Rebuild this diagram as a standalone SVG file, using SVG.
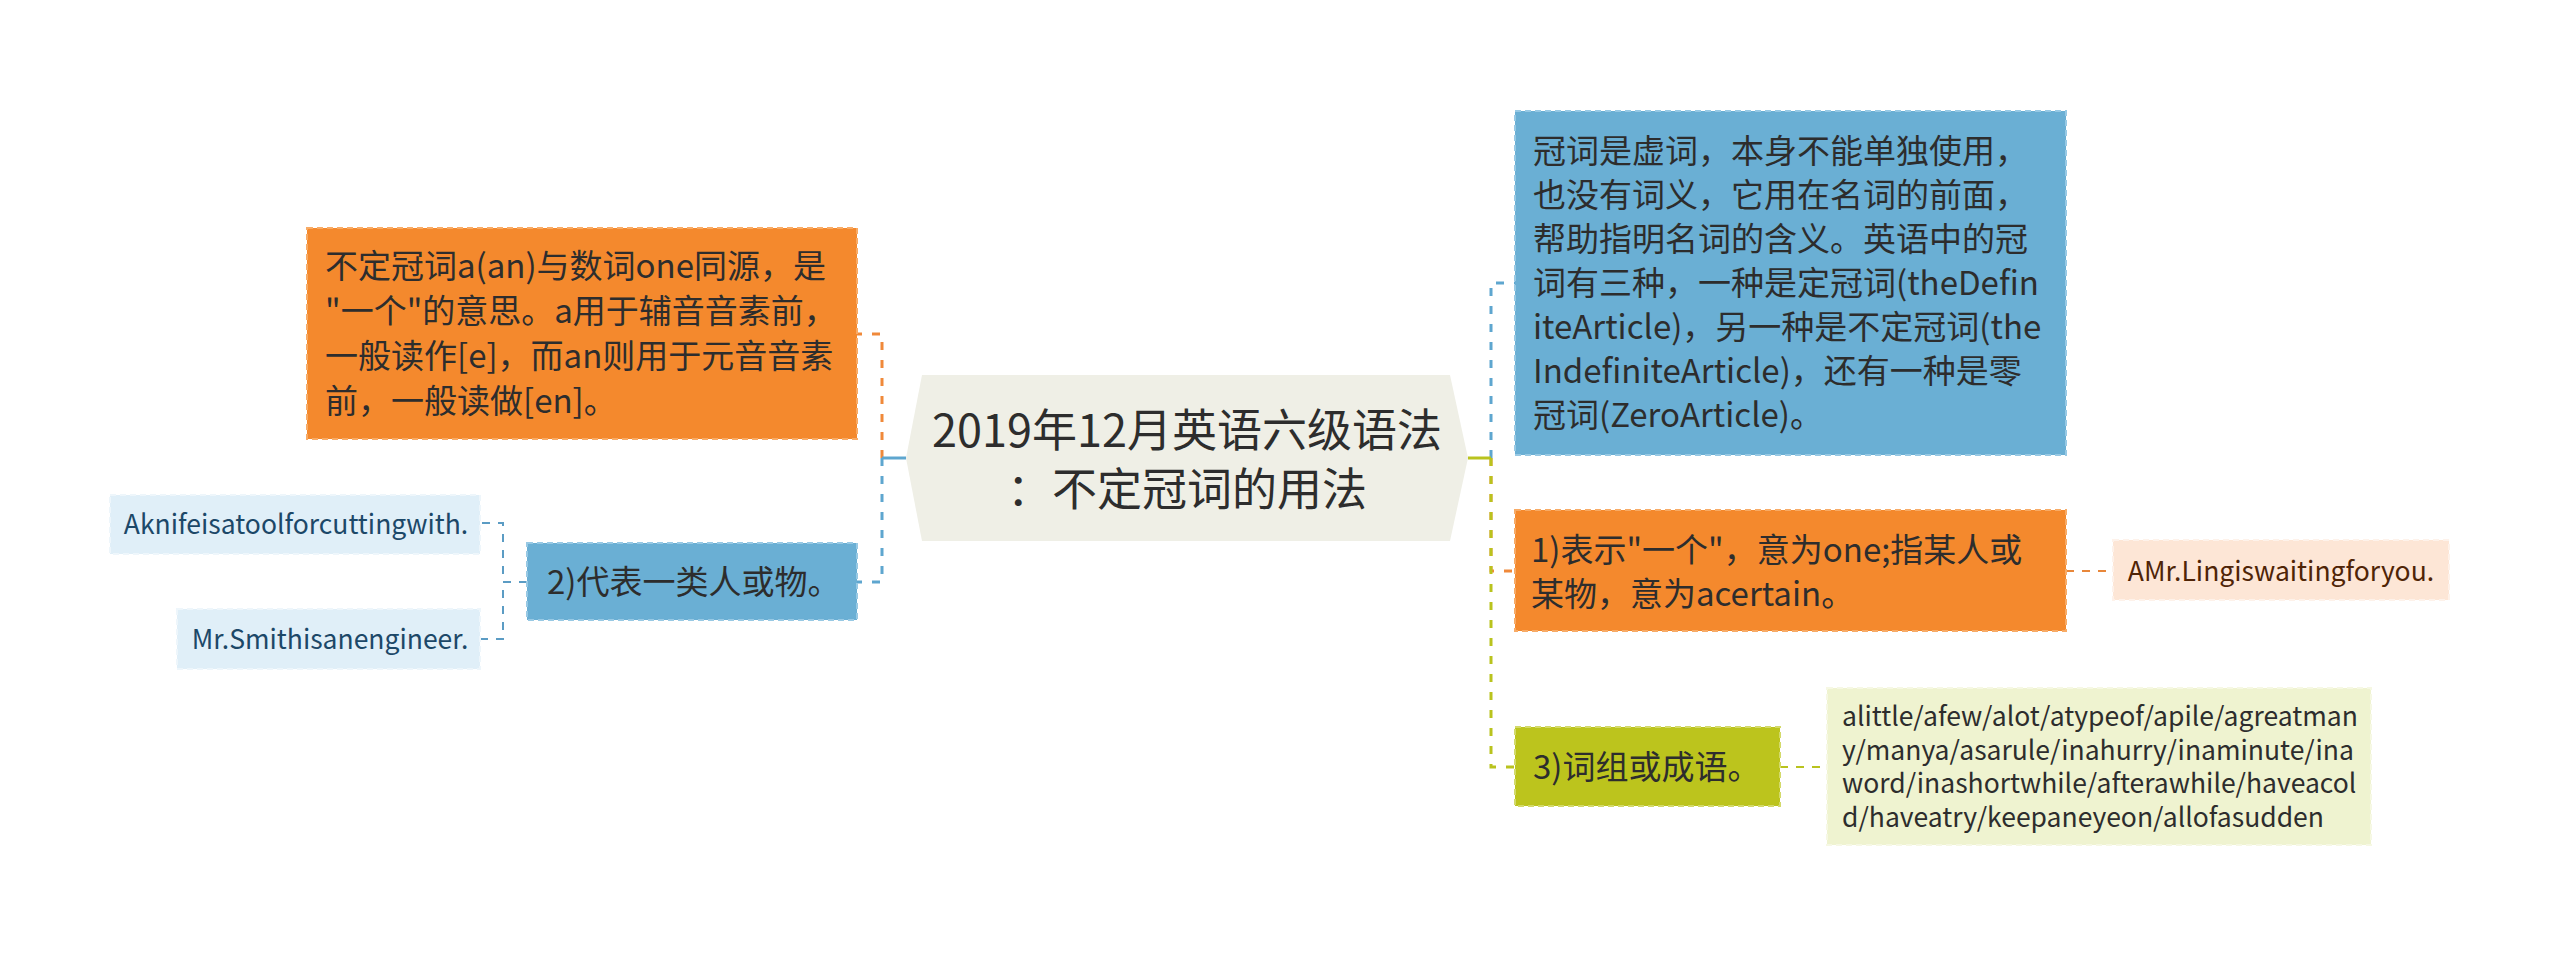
<svg xmlns="http://www.w3.org/2000/svg" width="2560" height="957" viewBox="0 0 2560 957">
<style>
text{font-family:"Noto Sans CJK SC","Noto Sans",sans-serif;fill:#2d2d2d}
.t33{font-size:33px}
.t44{font-size:45px}
.leaf{font-size:26.5px}
.c{stroke-width:3;fill:none;stroke-dasharray:8 10}
.cs{stroke-width:3;fill:none}
.lc{stroke-width:2;fill:none;stroke-dasharray:8 8}
.nb{stroke-width:2;stroke-dasharray:6 4}
</style>
<rect width="2560" height="957" fill="#ffffff"/>
<g id="connectors">
<path class="c" d="M882,458 V334 H857" stroke="#f0893a"/>
<path class="c" d="M882,458 V582 H857" stroke="#5ea6cf"/>
<path class="cs" d="M906,458 H882" stroke="#5ea6cf"/>
<path class="c" d="M1491,458 V283 H1515" stroke="#5ea6cf"/>
<path class="c" d="M1491,458 V571 H1515" stroke="#f0893a"/>
<path class="c" d="M1491,458 V767 H1515" stroke="#b9c31e"/>
<path class="cs" d="M1468,458 H1491" stroke="#b9c31e"/>
<path class="lc" d="M527,582 H503 V523 H480" stroke="#5b9cc4"/>
<path class="lc" d="M527,582 H503 V639 H480" stroke="#5b9cc4"/>
<path class="lc" d="M2066,571 H2113" stroke="#e8873a"/>
<path class="lc" d="M1780,767 H1827" stroke="#b9c31e"/>
</g>
<g id="center">
<polygon points="922,375 1450,375 1468,458 1450,541 922,541 906,458" fill="#efefe6"/>
<text class="t44" x="1187" y="447" text-anchor="middle">2019年12月英语六级语法</text>
<text class="t44" x="1187" y="506" text-anchor="middle">：不定冠词的用法</text>
</g>
<g id="n-left-orange">
<rect class="nb" x="307" y="228" width="550" height="211" fill="#f4892d" stroke="#f8ab66"/>
<text class="t33" x="325" y="278">不定冠词a(an)与数词one同源，是</text>
<text class="t33" x="325" y="323">"一个"的意思。a用于辅音音素前，</text>
<text class="t33" x="325" y="368">一般读作[e]，而an则用于元音音素</text>
<text class="t33" x="325" y="413">前，一般读做[en]。</text>
</g>
<g id="n-left-blue">
<rect class="nb" x="527" y="543" width="330" height="77" fill="#6aafd4" stroke="#98c9e4"/>
<text class="t33" x="547" y="594">2)代表一类人或物。</text>
</g>
<g id="leaf-knife">
<rect class="nb" x="110" y="495" width="370" height="59" fill="#e0eff8" stroke="#eef6fb"/>
<text class="leaf" x="296" y="534" text-anchor="middle" style="fill:#1c4868">Aknifeisatoolforcuttingwith.</text>
</g>
<g id="leaf-smith">
<rect class="nb" x="177" y="609" width="303" height="60" fill="#e0eff8" stroke="#eef6fb"/>
<text class="leaf" x="330" y="649" text-anchor="middle" style="fill:#1c4868">Mr.Smithisanengineer.</text>
</g>
<g id="n-right-blue">
<rect class="nb" x="1515" y="111" width="551" height="344" fill="#6aafd4" stroke="#98c9e4"/>
<text class="t33" x="1533" y="163">冠词是虚词，本身不能单独使用，</text>
<text class="t33" x="1533" y="207">也没有词义，它用在名词的前面，</text>
<text class="t33" x="1533" y="251">帮助指明名词的含义。英语中的冠</text>
<text class="t33" x="1533" y="295">词有三种，一种是定冠词(theDefin</text>
<text class="t33" x="1533" y="339">iteArticle)，另一种是不定冠词(the</text>
<text class="t33" x="1533" y="383">IndefiniteArticle)，还有一种是零</text>
<text class="t33" x="1533" y="427">冠词(ZeroArticle)。</text>
</g>
<g id="n-right-orange">
<rect class="nb" x="1515" y="510" width="551" height="121" fill="#f4892d" stroke="#f8ab66"/>
<text class="t33" x="1531" y="562">1)表示"一个"，意为one;指某人或</text>
<text class="t33" x="1531" y="606">某物，意为acertain。</text>
</g>
<g id="leaf-ling">
<rect class="nb" x="2113" y="540" width="336" height="60" fill="#fde6d6" stroke="#fef2ea"/>
<text class="leaf" x="2281" y="581" text-anchor="middle" style="fill:#4f2406">AMr.Lingiswaitingforyou.</text>
</g>
<g id="n-right-olive">
<rect class="nb" x="1515" y="727" width="265" height="79" fill="#bcc41d" stroke="#d3da6a"/>
<text class="t33" x="1533" y="779">3)词组或成语。</text>
</g>
<g id="leaf-phrases">
<rect class="nb" x="1827" y="688" width="544" height="157" fill="#eff3d0" stroke="#f6f8e4"/>
<text class="leaf" x="1842" y="726">alittle/afew/alot/atypeof/apile/agreatman</text>
<text class="leaf" x="1842" y="760">y/manya/asarule/inahurry/inaminute/ina</text>
<text class="leaf" x="1842" y="793">word/inashortwhile/afterawhile/haveacol</text>
<text class="leaf" x="1842" y="827">d/haveatry/keepaneyeon/allofasudden</text>
</g>
</svg>
